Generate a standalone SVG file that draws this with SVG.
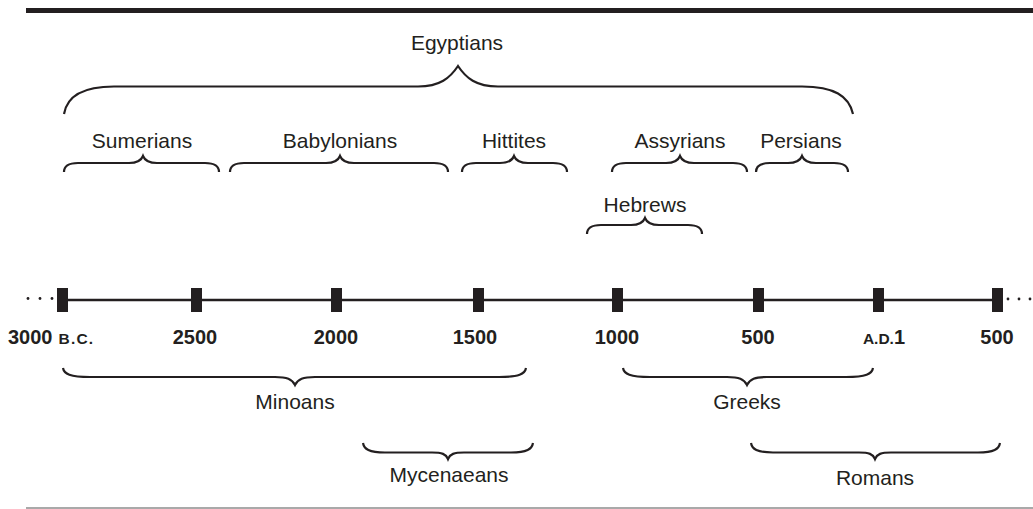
<svg xmlns="http://www.w3.org/2000/svg" width="1033" height="509" viewBox="0 0 1033 509">
  <style>
    .lbl { font-family: "Liberation Sans", Arial, sans-serif; font-size: 21px; fill: #231f20; text-anchor: middle; }
    .yr { font-family: "Liberation Sans", Arial, sans-serif; font-size: 20px; font-weight: bold; fill: #231f20; text-anchor: middle; }
    .sc { font-size: 15.5px; }
    .brace { fill: none; stroke: #231f20; stroke-width: 2.2; stroke-linecap: butt; stroke-linejoin: miter; }
    .tick { fill: #231f20; }
    .dot { fill: #231f20; }
  </style>

  <!-- frame rules -->
  <rect x="26" y="8" width="1007" height="5" fill="#231f20"/>
  <line x1="26" y1="508" x2="1033" y2="508" stroke="#555" stroke-width="1.2"/>

  <!-- timeline axis -->
  <g id="timeline">
    <line x1="62" y1="300" x2="997" y2="300" stroke="#231f20" stroke-width="2.4"/>
    <circle class="dot" cx="28" cy="298.5" r="1.4"/>
    <circle class="dot" cx="40" cy="298.5" r="1.4"/>
    <circle class="dot" cx="52" cy="298.5" r="1.4"/>
    <circle class="dot" cx="1008" cy="299" r="1.4"/>
    <circle class="dot" cx="1019" cy="299" r="1.4"/>
    <circle class="dot" cx="1030" cy="299" r="1.4"/>
    <rect class="tick" x="57" y="288" width="11" height="24"/>
    <rect class="tick" x="191" y="288" width="11" height="24"/>
    <rect class="tick" x="331" y="288" width="11" height="24"/>
    <rect class="tick" x="473" y="288" width="11" height="24"/>
    <rect class="tick" x="612" y="288" width="11" height="24"/>
    <rect class="tick" x="753" y="288" width="11" height="24"/>
    <rect class="tick" x="873" y="288" width="11" height="24"/>
    <rect class="tick" x="992" y="288" width="11" height="24"/>
    <text class="yr" x="8" y="344" style="text-anchor:start">3000 <tspan class="sc" x="58.5" letter-spacing="1.2">B.C.</tspan></text>
    <text class="yr" x="195" y="344">2500</text>
    <text class="yr" x="336" y="344">2000</text>
    <text class="yr" x="475" y="344">1500</text>
    <text class="yr" x="617" y="344">1000</text>
    <text class="yr" x="758" y="344">500</text>
    <text class="yr" x="905" y="344" style="text-anchor:end"><tspan class="sc">A.D.</tspan>1</text>
    <text class="yr" x="997" y="344">500</text>
  </g>

  <!-- civilisations above the axis -->
  <g id="egyptians">
    <text class="lbl" x="457" y="50">Egyptians</text>
    <path class="brace" d="M64,114 C67,96 82,86.5 114,86.5 L418,86.5 C440,86.5 450,78 458,66 C466,78 476,86.5 498,86.5 L802,86.5 C834,86.5 849,96 853,114"/>
  </g>
  <g id="sumerians">
    <text class="lbl" x="142" y="148">Sumerians</text>
    <path class="brace" d="M64,172 C64,166 68,163 78,163 L129,163 C137,163 141,161 143,156 C145,161 149,163 157,163 L205,163 C215,163 219,166 219,172"/>
  </g>
  <g id="babylonians">
    <text class="lbl" x="340" y="148">Babylonians</text>
    <path class="brace" d="M230,172 C230,166 234,163 244,163 L326,163 C334,163 338,161 340,156 C342,161 346,163 354,163 L434,163 C444,163 448,166 448,172"/>
  </g>
  <g id="hittites">
    <text class="lbl" x="514" y="148">Hittites</text>
    <path class="brace" d="M462,172 C462,166 466,163 476,163 L500,163 C508,163 512,161 514,156 C516,161 520,163 528,163 L553,163 C563,163 567,166 567,172"/>
  </g>
  <g id="assyrians">
    <text class="lbl" x="680" y="148">Assyrians</text>
    <path class="brace" d="M612,172 C612,166 616,163 626,163 L666,163 C674,163 678,161 680,156 C682,161 686,163 694,163 L733,163 C743,163 747,166 747,172"/>
  </g>
  <g id="persians">
    <text class="lbl" x="801" y="148">Persians</text>
    <path class="brace" d="M756,172 C756,166 760,163 770,163 L788,163 C796,163 800,161 802,156 C804,161 808,163 816,163 L834,163 C844,163 848,166 848,172"/>
  </g>
  <g id="hebrews">
    <text class="lbl" x="645" y="212">Hebrews</text>
    <path class="brace" d="M587,234 C587,228 591,225 601,225 L631,225 C639,225 643,223 645,218 C647,223 651,225 659,225 L688,225 C698,225 702,228 702,234"/>
  </g>

  <!-- civilisations below the axis -->
  <g id="minoans">
    <path class="brace" d="M63,368 C64,374 70,377 90,377 L275,377 C287,377 292,379 295,385 C298,379 303,377 315,377 L499,377 C519,377 525,374 526,368"/>
    <text class="lbl" x="295" y="409">Minoans</text>
  </g>
  <g id="greeks">
    <path class="brace" d="M623,368 C624,374 630,377 650,377 L727,377 C739,377 744,379 747,385 C750,379 755,377 767,377 L846,377 C866,377 872,374 873,368"/>
    <text class="lbl" x="747" y="409">Greeks</text>
  </g>
  <g id="mycenaeans">
    <path class="brace" d="M363,443 C364,449 369,452.5 385,452.5 L432,452.5 C442,452.5 446,454 448,459 C450,454 454,452.5 464,452.5 L511,452.5 C527,452.5 532,449 533,443"/>
    <text class="lbl" x="449" y="482">Mycenaeans</text>
  </g>
  <g id="romans">
    <path class="brace" d="M751,443 C752,449 757,452.5 773,452.5 L859,452.5 C869,452.5 873,454 875,459 C877,454 881,452.5 891,452.5 L978,452.5 C994,452.5 999,449 1000,443"/>
    <text class="lbl" x="875" y="485">Romans</text>
  </g>
</svg>
